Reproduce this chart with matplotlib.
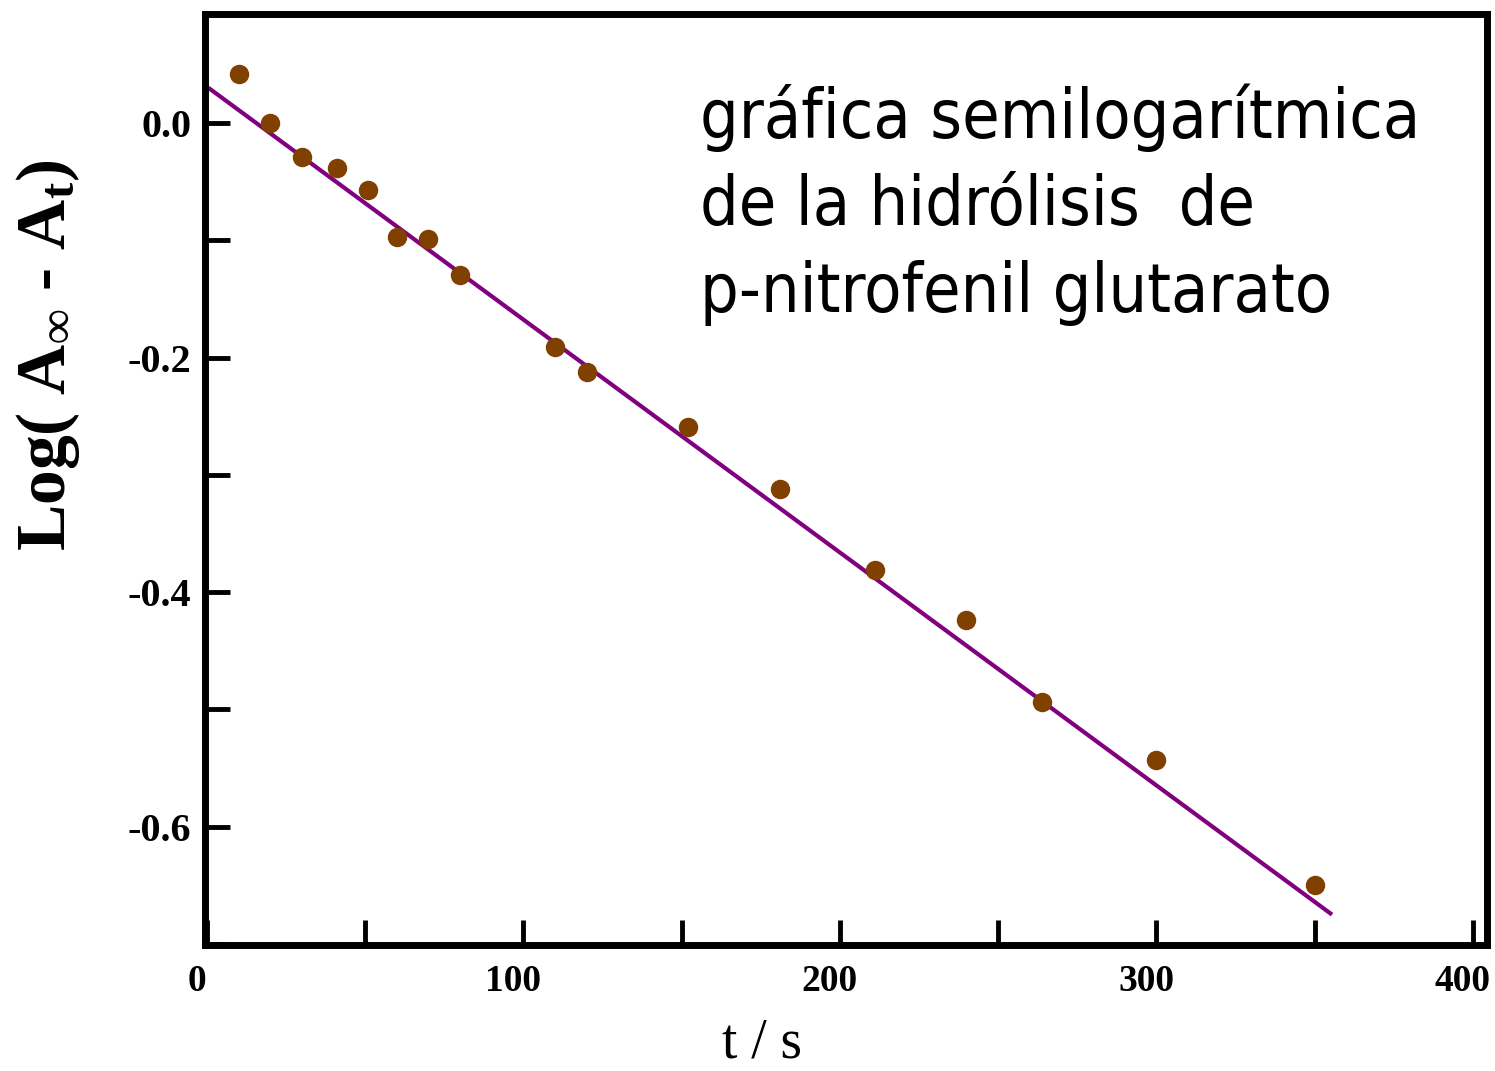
import numpy as np
import matplotlib.pyplot as plt
from matplotlib.ticker import MultipleLocator
from matplotlib.transforms import ScaledTranslation

# data
t_s = [10, 20, 30, 41, 51, 60, 70, 80, 110, 120, 152, 181, 211, 240, 264, 300, 350]
log_a = [0.042, 0.000, -0.029, -0.038, -0.057, -0.097, -0.099, -0.130, -0.191,
         -0.212, -0.259, -0.312, -0.381, -0.424, -0.494, -0.543, -0.650]

# fitted line
fit_slope = -0.001986
fit_intercept = 0.031
fit_t = [1, 355]

plt.rcParams['font.family'] = ['Liberation Serif', 'DejaVu Serif']
plt.rcParams['font.weight'] = 'bold'
plt.rcParams['mathtext.fontset'] = 'custom'
plt.rcParams['mathtext.rm'] = 'Liberation Serif:bold'
plt.rcParams['mathtext.it'] = 'Liberation Serif:bold'
plt.rcParams['mathtext.default'] = 'regular'

fig = plt.figure(figsize=(14.95, 10.71), dpi=100)
ax = fig.add_axes([205 / 1495, 1 - 945 / 1071, 1282 / 1495, 931 / 1071])

fit_y = [fit_intercept + fit_slope * t for t in fit_t]
ax.plot(fit_t, fit_y, color='#800080', lw=3, zorder=2)
ax.plot(t_s, log_a, 'o', color='#804000', ms=13, zorder=3)

ax.set_xlim(-0.6, 404.5)
ax.set_ylim(-0.701, 0.093)

ax.xaxis.set_major_locator(MultipleLocator(100))
ax.xaxis.set_minor_locator(MultipleLocator(50))
ax.yaxis.set_major_locator(MultipleLocator(0.2))
ax.yaxis.set_minor_locator(MultipleLocator(0.1))
ax.yaxis.set_major_formatter(lambda v, p: '%.1f' % v)

for s in ax.spines.values():
    s.set_linewidth(5)

ax.tick_params(which='both', direction='in', length=18, width=3.5, labelsize=27)
ax.tick_params(axis='y', labelsize=29, pad=10)
ax.tick_params(axis='x', pad=14)

# shift x tick labels a little to the left like the original
shift = ScaledTranslation(-10 / 100, 0, fig.dpi_scale_trans)
for lbl in ax.get_xticklabels():
    lbl.set_transform(lbl.get_transform() + shift)

ax.set_xlabel('t / s', fontsize=40, fontweight='normal')
ax.xaxis.set_label_coords((762 - 205) / 1282, -0.078)
fig.text(48 / 1495, 1 - 355 / 1071, r'Log( A$_{\infty}$ - A$_{t}$)', rotation=90,
         fontsize=50, fontweight='bold', ha='center', va='center')

ax.text(0.386, 0.925, 'gráfica semilogarítmica\nde la hidrólisis  de\np-nitrofenil glutarato',
        transform=ax.transAxes, ha='left', va='top', fontsize=49, fontweight='normal',
        family='DejaVu Sans', fontstretch='condensed', linespacing=1.4)

plt.savefig('out.png', dpi=100)
